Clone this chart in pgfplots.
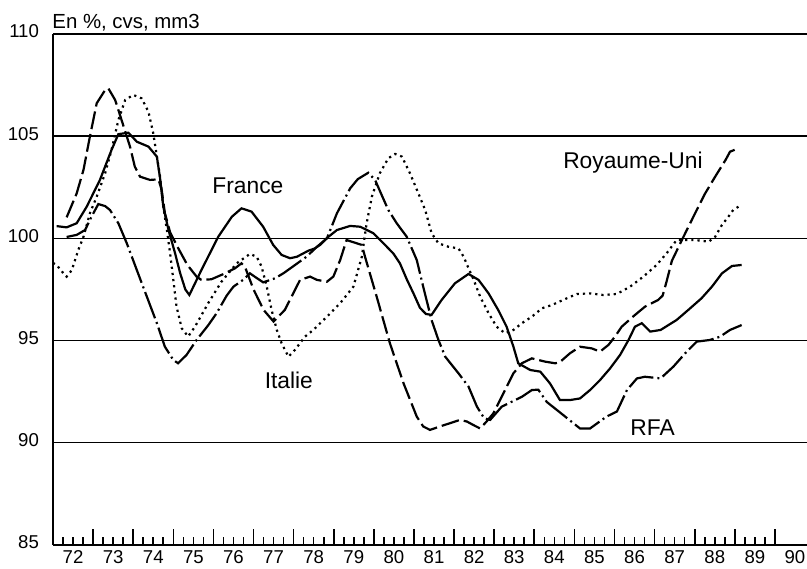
\documentclass[border=0pt]{standalone}
\usepackage{fontspec}
\setmainfont{Liberation Sans}
\usepackage{pgfplots}
\pgfplotsset{compat=1.18}

\begin{document}
\begin{tikzpicture}
\begin{axis}[
    scale only axis,
    width=377pt, height=255.5pt,
    xmin=72, xmax=90.8,
    ymin=85, ymax=110,
    axis x line=bottom,
    axis y line=left,
    axis line style={-, line width=0.9pt},
    xtick={72,...,90},
    xticklabels={},
    minor x tick num=3,
    tick align=inside,
    major tick length=8pt,
    minor tick length=4pt,
    every tick/.style={black, line width=0.8pt},
    extra x ticks={72.5,73.5,...,90.5},
    extra x tick labels={72,73,74,75,76,77,78,79,80,81,82,83,84,85,86,87,88,89,90},
    extra x tick style={major tick length=0pt},
    typeset ticklabels with strut,
    ytick={85,90,...,110},
    ytick style={draw=none},
    ymajorgrids=true,
    major grid style={black, line width=0.7pt},
    tick label style={font=\fontsize{9.3}{10}\selectfont},
    xticklabel style={yshift=1.5pt},
    yticklabel style={xshift=-3.5pt},
    /pgf/number format/assume math mode=true,
    clip=false,
]
% France
\addplot[black, line width=1.1pt] coordinates {
(72.09,100.6)(72.34,100.54)(72.59,100.74)(72.84,101.55)(73.17,102.86)(73.46,104.33)
(73.63,105.1)(73.88,105.17)(74.09,104.73)(74.38,104.49)(74.59,104.0)(74.67,102.94)
(74.75,101.55)(74.88,100.41)(75.04,99.3)(75.17,98.3)(75.3,97.5)(75.4,97.23)
(75.7,98.45)(76.12,100.08)(76.46,101.06)(76.7,101.47)(76.95,101.31)(77.24,100.57)
(77.49,99.68)(77.7,99.19)(77.91,99.03)(78.08,99.1)(78.37,99.4)(78.53,99.51)
(78.66,99.68)(78.83,100.02)(79.08,100.41)(79.41,100.61)(79.66,100.57)(79.99,100.25)
(80.24,99.76)(80.49,99.25)(80.65,98.78)(80.82,98.0)(80.99,97.3)(81.15,96.6)
(81.3,96.3)(81.44,96.26)(81.69,96.99)(82.02,97.8)(82.36,98.26)(82.61,97.97)
(82.86,97.31)(83.1,96.5)(83.31,95.68)(83.48,94.7)(83.6,93.89)(83.9,93.56)
(84.15,93.48)(84.39,92.91)(84.64,92.09)(84.89,92.09)(85.14,92.17)(85.39,92.58)
(85.64,93.07)(85.89,93.64)(86.14,94.3)(86.35,95.03)(86.51,95.68)(86.68,95.85)
(86.89,95.44)(87.15,95.52)(87.55,96.01)(87.84,96.5)(88.17,97.07)(88.43,97.64)
(88.68,98.29)(88.93,98.65)(89.17,98.7)
};
% Royaume-Uni
\addplot[black, line width=1.1pt, dash pattern=on 9pt off 2.5pt] coordinates {
(72.34,101.03)(72.59,102.2)(72.76,103.35)(72.92,104.98)(73.09,106.61)(73.3,107.26)
(73.38,107.34)(73.55,106.77)(73.71,105.79)(73.92,104.49)(74.04,103.51)(74.17,103.02)
(74.42,102.86)(74.63,102.89)(74.71,102.37)(74.79,101.23)(74.92,100.3)(75.1,99.6)
(75.35,98.7)(75.58,98.13)(75.7,97.97)(75.95,98.0)(76.29,98.29)(76.54,98.54)
(76.7,98.78)(76.79,98.59)(77.0,97.5)(77.25,96.5)(77.5,95.93)(77.78,96.5)
(77.99,97.31)(78.16,97.97)(78.41,98.13)(78.58,97.97)(78.83,97.88)(78.99,98.13)
(79.16,98.94)(79.32,99.92)(79.7,99.68)(79.78,99.1)(80.07,97.15)(80.4,94.87)
(80.74,92.91)(81.07,91.28)(81.23,90.8)(81.4,90.63)(81.65,90.8)(81.9,90.96)
(82.15,91.12)(82.32,91.04)(82.48,90.87)(82.65,90.7)(82.81,91.04)(82.98,91.44)
(83.23,92.42)(83.48,93.4)(83.69,93.89)(83.94,94.13)(84.27,93.97)(84.52,93.89)
(84.64,93.95)(84.89,94.38)(85.14,94.7)(85.43,94.62)(85.64,94.46)(85.85,94.79)
(86.01,95.19)(86.18,95.68)(86.46,96.17)(86.76,96.66)(87.09,96.99)(87.2,97.2)
(87.3,97.9)(87.43,98.9)(87.7,100.0)(88.01,101.23)(88.26,102.2)(88.51,103.02)
(88.77,103.84)(88.88,104.24)(89.09,104.41)
};
% Italie
\addplot[black, line width=1.1pt, dash pattern=on 1.1pt off 2pt] coordinates {
(72.0,98.8)(72.09,98.7)(72.26,98.29)(72.34,98.13)(72.47,98.45)(72.63,99.43)
(72.76,100.08)(72.92,101.23)(73.09,102.04)(73.3,103.19)(73.46,104.33)(73.63,105.79)
(73.8,106.77)(74.0,107.02)(74.21,106.85)(74.38,106.2)(74.5,105.14)(74.59,104.0)
(74.67,103.02)(74.75,101.55)(74.84,100.41)(74.92,99.27)(75.0,97.97)(75.08,96.66)
(75.21,95.6)(75.37,95.2)(75.54,95.68)(75.87,96.83)(76.2,97.88)(76.58,98.78)
(76.91,99.24)(77.08,99.1)(77.2,98.62)(77.33,97.64)(77.45,96.5)(77.58,95.52)
(77.7,94.87)(77.87,94.21)(78.03,94.54)(78.28,95.19)(78.49,95.52)(78.83,96.17)
(79.16,96.83)(79.49,97.64)(79.7,99.1)(79.82,100.74)(79.95,102.04)(80.15,103.19)
(80.36,103.92)(80.53,104.13)(80.7,104.0)(80.9,103.19)(81.11,102.2)(81.28,101.39)
(81.44,100.25)(81.61,99.76)(81.86,99.59)(82.11,99.51)(82.24,99.1)(82.36,98.54)
(82.49,97.97)(82.65,97.15)(82.86,96.34)(83.06,95.68)(83.27,95.36)(83.48,95.52)
(83.69,95.85)(83.94,96.17)(84.19,96.58)(84.44,96.74)(84.72,96.99)(85.06,97.28)
(85.39,97.31)(85.72,97.23)(86.06,97.28)(86.39,97.64)(86.72,98.13)(87.05,98.7)
(87.3,99.27)(87.55,99.92)(87.68,99.92)(88.01,99.92)(88.35,99.84)(88.51,100.08)
(88.68,100.66)(88.84,101.06)(88.96,101.39)(89.09,101.55)
};
% RFA
\addplot[black, line width=1.1pt, dash pattern=on 14pt off 2pt on 1pt off 2pt] coordinates {
(72.34,100.07)(72.59,100.17)(72.8,100.41)(72.96,101.06)(73.13,101.68)(73.3,101.58)
(73.42,101.39)(73.63,100.74)(73.84,99.76)(74.09,98.45)(74.34,97.15)(74.59,95.85)
(74.79,94.7)(75.0,94.05)(75.12,93.89)(75.33,94.3)(75.58,95.03)(75.87,95.75)
(76.08,96.34)(76.33,97.2)(76.5,97.64)(76.74,97.97)(76.91,98.29)(77.05,98.1)
(77.24,97.85)(77.54,98.05)(77.75,98.3)(78.0,98.65)(78.32,99.1)(78.58,99.59)
(78.83,100.0)(79.08,101.23)(79.41,102.45)(79.6,102.9)(79.86,103.21)(80.03,102.86)
(80.2,102.1)(80.36,101.39)(80.57,100.74)(80.82,100.08)(81.07,98.94)(81.23,97.64)
(81.44,96.0)(81.61,95.03)(81.78,94.21)(82.11,93.4)(82.36,92.75)(82.57,91.77)
(82.75,91.2)(82.9,91.12)(83.19,91.77)(83.44,92.01)(83.69,92.25)(83.94,92.58)
(84.1,92.6)(84.31,92.0)(84.72,91.36)(85.14,90.7)(85.39,90.7)(85.8,91.28)
(86.06,91.53)(86.31,92.58)(86.56,93.15)(86.76,93.23)(87.15,93.15)(87.47,93.73)
(87.8,94.46)(88.05,94.95)(88.38,95.03)(88.63,95.19)(88.88,95.52)(89.17,95.76)
};
\node[font=\fontsize{11.4}{13}\selectfont] at (axis cs:76.86,102.56) {France};
\node[font=\fontsize{11.4}{13}\selectfont] at (axis cs:77.88,93.07) {Italie};
\node[font=\fontsize{11.4}{13}\selectfont] at (axis cs:86.46,103.71) {Royaume-Uni};
\node[font=\fontsize{11.4}{13}\selectfont] at (axis cs:86.95,90.75) {RFA};
\coordinate (SW) at (rel axis cs:0,0);
\coordinate (NE) at (rel axis cs:1,1);
\coordinate (NW) at (rel axis cs:0,1);
\end{axis}
\node[anchor=base west, inner sep=0pt, font=\fontsize{10.2}{12}\selectfont, yshift=2.9pt, xshift=-0.5pt] at (NW) {En \%, cvs, mm3};
\pgfresetboundingbox
\path ([xshift=-26.5pt,yshift=-12pt]SW) rectangle ([yshift=17pt]NE);
\end{tikzpicture}
\end{document}
